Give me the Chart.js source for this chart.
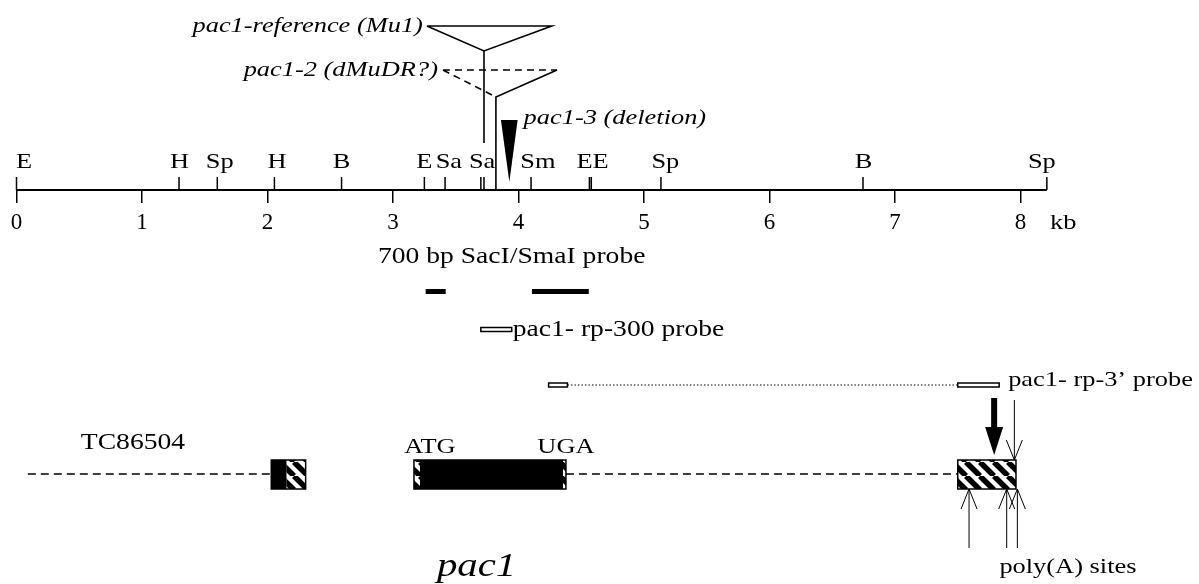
<!DOCTYPE html>
<html>
<head>
<meta charset="utf-8">
<title>pac1 locus map</title>
<script src="https://cdn.jsdelivr.net/npm/chart.js@4.4.1/dist/chart.umd.min.js"></script>
<style>
  html, body { margin: 0; padding: 0; background: #fff; }
  #wrap { width: 1199px; height: 584px; }
</style>
</head>
<body>
<div id="wrap"><canvas id="map" width="1199" height="584"></canvas></div>
<script>
// ---- data: everything along x is in kb ----
const kbTicks = [0, 1, 2, 3, 4, 5, 6, 7, 8];
const mapEnd = 8.21;

const siteKb = [0, 1.295, 1.60, 2.055, 2.59, 3.25, 3.415, 3.70, 3.725, 4.10, 4.565, 4.58, 5.135, 6.745, 8.21];
const siteNames = ["E", "H", "Sp", "H", "B", "E", "Sa", "Sa", "Sm", "EE", "Sp", "B", "Sp"];
const siteNameKb = [0.06, 1.30, 1.62, 2.075, 2.59, 3.25, 3.445, 3.71, 4.155, 4.59, 5.17, 6.75, 8.17];

const alleleNames = ["pac1-reference (Mu1)", "pac1-2 (dMuDR?)", "pac1-3 (deletion)"];
const alleleKb = [3.725, 3.82, 3.927];
const alleleLeft = [3.27, 3.398, 3.86];
const alleleRight = [4.265, 4.307, 3.993];

const probeNames = ["700 bp SacI/SmaI probe", "pac1- rp-300 probe", "pac1- rp-3\u2019 probe"];
const sacSmaBars = [[3.26, 3.42], [4.107, 4.56]];
const rp300Box = [3.70, 3.946];
const rp3Boxes = [[4.24, 4.39], [7.50, 7.83]];

const geneNames = ["TC86504", "pac1"];
const intronDashes = [[0.09, 2.03], [4.378, 7.50]];
const exonStart = [2.03, 2.153, 3.167, 3.215, 4.355, 7.50];
const exonEnd   = [2.153, 2.304, 3.215, 4.355, 4.378, 7.964];
const exonFill  = ["solid", "hatch", "hatch", "solid", "hatch", "hatch"];
const exonOutline = [[2.03, 2.304], [3.167, 4.378], [7.50, 7.964]];
const codonNames = ["ATG", "UGA"];
const codonKb = [3.295, 4.378];
const mainPolyAKb = 7.79;
const probeEndKb = 7.951;
const polyAKb = [7.59, 7.89, 7.975];

// ---- layout (pixel rows on the hidden y scale) ----
const ROW = {
  mu1Top: 26, mu1Apex: 51, mu1Foot: 143,
  mdrTop: 70, mdrApex: 97,
  delTop: 120, delApex: 182,
  siteLabel: 162, siteTop: 177, axis: 190, kbLabel: 223,
  sacLabel: 257, sacBar: 291.5, rp300: 329.5, rp3: 385,
  codon: 447, geneTop: 460, gene: 474, geneBottom: 489,
  polyABottom: 548, polyALabel: 567, pac1Base: 576
};
const PX_PER_KB = 125.5, ORIGIN_PX = 16.5, W = 1199, H = 584;
const SERIF = '"Liberation Serif", "Times New Roman", serif';

function segs(polys) {
  const out = [];
  polys.forEach(poly => {
    poly.forEach(p => out.push({ x: p[0], y: p[1] }));
    out.push({ x: poly[0][0], y: null });
  });
  return out;
}

function line(data, extra) {
  return Object.assign({
    data, showLine: true, borderColor: "#000", borderWidth: 1.5,
    pointRadius: 0, pointHoverRadius: 0, fill: false, tension: 0, borderCapStyle: "butt"
  }, extra || {});
}

function text(ctx, str, x, y, o) {
  o = o || {};
  ctx.save();
  ctx.font = (o.italic ? "italic " : "") + (o.size || 22) + "px " + SERIF;
  ctx.fillStyle = "#000";
  ctx.textAlign = o.align || "left";
  ctx.textBaseline = o.base || "middle";
  ctx.translate(x, y);
  ctx.scale(1.2, 1);
  ctx.fillText(str, 0, 0);
  ctx.restore();
}

function hatchPattern(ctx) {
  const s = 14;
  const c = document.createElement("canvas");
  c.width = s; c.height = s;
  const g = c.getContext("2d");
  g.fillStyle = "#fff";
  g.fillRect(0, 0, s, s);
  g.strokeStyle = "#000";
  g.lineWidth = 5.5;
  [-1, 0, 1].forEach(k => {
    g.beginPath();
    g.moveTo(k * s, 0);
    g.lineTo(k * s + s, s);
    g.stroke();
  });
  return ctx.createPattern(c, "repeat");
}

const drawings = {
  id: "drawings",
  beforeDraw(chart) {
    const ctx = chart.ctx;
    ctx.save();
    ctx.fillStyle = "#fff";
    ctx.fillRect(0, 0, chart.width, chart.height);
    ctx.restore();
  },
  afterDatasetsDraw(chart) {
    const ctx = chart.ctx;
    const xs = chart.scales.x, ys = chart.scales.y;
    const X = v => xs.getPixelForValue(v);
    const Y = v => ys.getPixelForValue(v);

    // restriction site names
    siteNames.forEach((n, i) => text(ctx, n, X(siteNameKb[i]), Y(ROW.siteLabel), { align: "center" }));
    text(ctx, "kb", X(8.34), Y(ROW.kbLabel), { align: "center" });

    // allele labels
    text(ctx, alleleNames[0], X(alleleLeft[0]) - 4, Y(ROW.mu1Top), { italic: true, align: "right" });
    text(ctx, alleleNames[1], X(alleleLeft[1]) - 5, Y(ROW.mdrTop), { italic: true, align: "right" });
    text(ctx, alleleNames[2], X(alleleRight[2]) + 6, Y(ROW.delTop - 2), { italic: true });

    // deletion triangle
    ctx.save();
    ctx.fillStyle = "#000";
    ctx.beginPath();
    ctx.moveTo(X(alleleLeft[2]), Y(ROW.delTop));
    ctx.lineTo(X(alleleRight[2]), Y(ROW.delTop));
    ctx.lineTo(X(alleleKb[2]), Y(ROW.delApex));
    ctx.closePath();
    ctx.fill();
    ctx.restore();

    // probes
    text(ctx, probeNames[0], X(2.88), Y(ROW.sacLabel), { size: 23 });
    ctx.save();
    ctx.fillStyle = "#fff";
    ctx.strokeStyle = "#000";
    ctx.lineWidth = 1.5;
    [rp300Box].concat(rp3Boxes).forEach((b, i) => {
      const r = i === 0 ? ROW.rp300 : ROW.rp3;
      const x0 = X(b[0]), x1 = X(b[1]);
      ctx.fillRect(x0, Y(r) - 2, x1 - x0, 4);
      ctx.strokeRect(x0, Y(r) - 2, x1 - x0, 4);
    });
    ctx.restore();
    text(ctx, probeNames[1], X(rp300Box[1]) + 1, Y(ROW.rp300), { size: 23 });
    text(ctx, probeNames[2], X(rp3Boxes[1][1]) + 9, Y(ROW.rp3 - 5));

    // exons
    const pat = hatchPattern(ctx);
    const gt = Y(ROW.geneTop), gb = Y(ROW.geneBottom);
    ctx.save();
    exonStart.forEach((s, i) => {
      ctx.fillStyle = exonFill[i] === "solid" ? "#000" : pat;
      ctx.fillRect(X(s), gt, X(exonEnd[i]) - X(s), gb - gt);
    });
    ctx.strokeStyle = "#000";
    ctx.lineWidth = 1.5;
    exonOutline.forEach(o => ctx.strokeRect(X(o[0]), gt, X(o[1]) - X(o[0]), gb - gt));
    ctx.restore();

    text(ctx, geneNames[0], X(0.928), Y(443), { align: "center", size: 23 });
    codonNames.forEach((c, i) => text(ctx, c, X(codonKb[i]), Y(ROW.codon), { align: "center" }));
    text(ctx, geneNames[1], X(3.35), Y(ROW.pac1Base), { italic: true, size: 34, base: "alphabetic" });

    // thick arrow to main poly(A) site
    ctx.save();
    ctx.fillStyle = "#000";
    const ax = X(mainPolyAKb);
    ctx.fillRect(ax - 3, Y(398), 6, Y(428) - Y(398));
    ctx.beginPath();
    ctx.moveTo(ax - 9, Y(427));
    ctx.lineTo(ax + 9, Y(427));
    ctx.lineTo(ax, Y(455));
    ctx.closePath();
    ctx.fill();

    // thin arrows
    ctx.strokeStyle = "#000";
    ctx.lineWidth = 1;
    const px = X(probeEndKb);
    ctx.beginPath();
    ctx.moveTo(px, Y(400)); ctx.lineTo(px, gt);
    ctx.moveTo(px - 8, gt - 20); ctx.lineTo(px, gt); ctx.lineTo(px + 8, gt - 20);
    ctx.stroke();
    polyAKb.forEach(k => {
      const x = X(k);
      ctx.beginPath();
      ctx.moveTo(x, Y(ROW.polyABottom)); ctx.lineTo(x, gb);
      ctx.moveTo(x - 8, gb + 20); ctx.lineTo(x, gb); ctx.lineTo(x + 8, gb + 20);
      ctx.stroke();
    });
    ctx.restore();
    text(ctx, "poly(A) sites", X(8.378), Y(ROW.polyALabel), { align: "center" });
  }
};

const datasets = [
  line(segs([[[0, ROW.axis], [mapEnd, ROW.axis]]]), { borderWidth: 2 }),
  line(segs(siteKb.map(s => [[s, ROW.siteTop], [s, ROW.axis]]))),
  line(segs([
    [[alleleLeft[0], ROW.mu1Top], [alleleRight[0], ROW.mu1Top], [alleleKb[0], ROW.mu1Apex], [alleleLeft[0], ROW.mu1Top]],
    [[alleleKb[0], ROW.mu1Apex], [alleleKb[0], ROW.mu1Foot]]
  ]), { borderWidth: 1.6 }),
  line(segs([
    [[alleleLeft[1], ROW.mdrTop], [alleleRight[1], ROW.mdrTop]],
    [[alleleLeft[1], ROW.mdrTop], [alleleKb[1], ROW.mdrApex]]
  ]), { borderWidth: 1.6, borderDash: [7, 5] }),
  line(segs([[[alleleRight[1], ROW.mdrTop], [alleleKb[1], ROW.mdrApex], [alleleKb[1], ROW.axis]]]), { borderWidth: 1.6 }),
  line(segs(sacSmaBars.map(b => [[b[0], ROW.sacBar], [b[1], ROW.sacBar]])), { borderWidth: 5 }),
  line(segs([[[rp3Boxes[0][1], ROW.rp3], [rp3Boxes[1][0], ROW.rp3]]]), { borderWidth: 1, borderDash: [1.5, 2] }),
  line(segs(intronDashes.map(d => [[d[0], ROW.gene], [d[1], ROW.gene]])), { borderWidth: 1.5, borderDash: [8, 5] })
];

const ctx = document.getElementById("map").getContext("2d");
const chart = new Chart(ctx, {
  type: "scatter",
  data: { datasets },
  options: {
    responsive: false,
    devicePixelRatio: 1,
    animation: false,
    events: [],
    layout: { padding: 0 },
    plugins: { legend: { display: false }, tooltip: { enabled: false } },
    scales: {
      x: {
        type: "linear",
        min: -ORIGIN_PX / PX_PER_KB,
        max: (W - ORIGIN_PX) / PX_PER_KB,
        position: { y: ROW.axis },
        afterBuildTicks: s => { s.ticks = kbTicks.map(v => ({ value: v })); },
        grid: { drawOnChartArea: false, drawTicks: true, tickLength: 13, color: "#000", lineWidth: 1.5 },
        border: { display: false },
        ticks: {
          color: "#000", padding: 6, maxRotation: 0, autoSkip: false,
          font: { family: SERIF, size: 23 },
          callback: v => String(v)
        }
      },
      y: { type: "linear", min: 0, max: H, reverse: true, display: false }
    }
  },
  plugins: [drawings]
});
</script>
</body>
</html>
